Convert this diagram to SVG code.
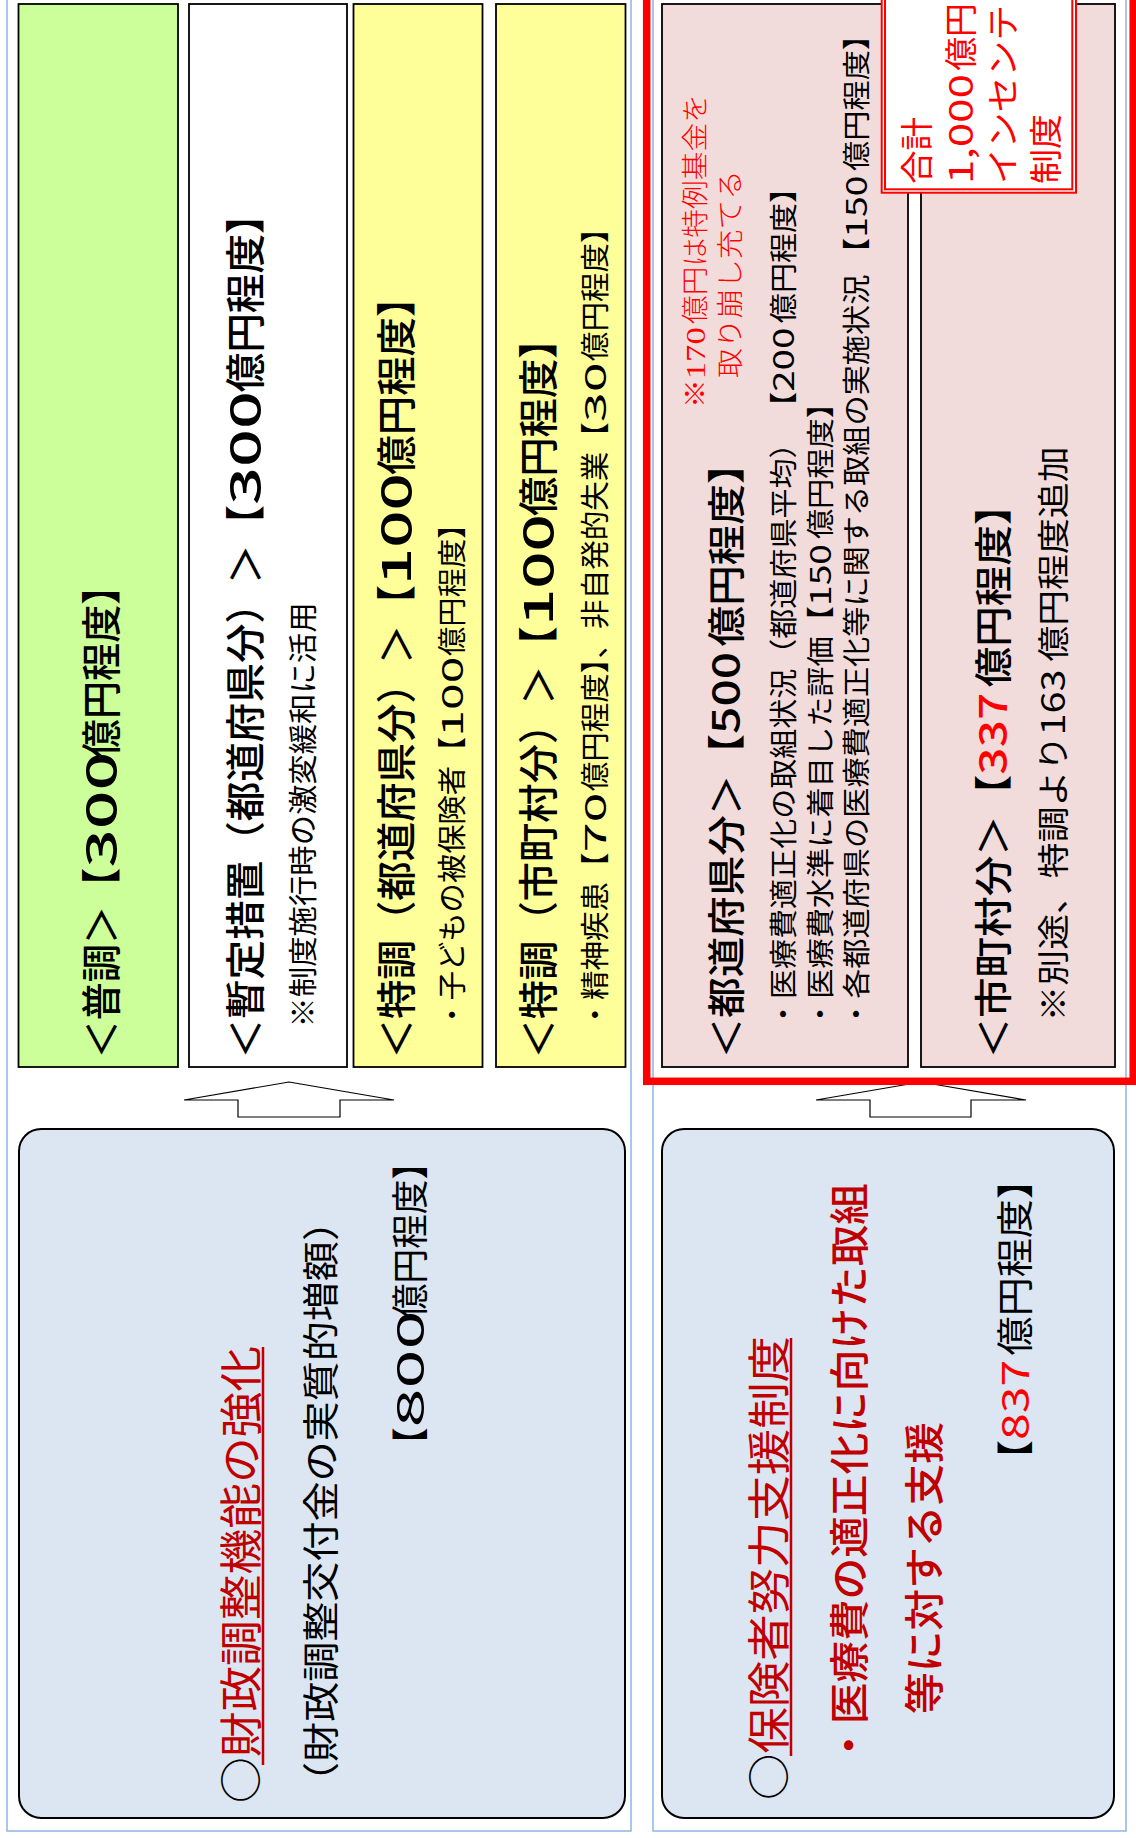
<svg xmlns="http://www.w3.org/2000/svg" width="1136" height="1838" viewBox="0 0 1136 1838">
<style>
text { font-family: "Noto Sans CJK JP", "Noto Sans", sans-serif; fill: #000; }
.b { font-weight: 500; }
.r { fill: #FF0000; }
.dr { fill: #C00000; }
.note { font-family: "Liberation Serif", "Noto Sans CJK JP", serif; fill: #FF0000; font-weight: 300; }
.frame { fill: none; stroke: #8EB4E3; stroke-width: 1.5; }
.box { stroke: #000; stroke-width: 1.8; }
.rbox { fill: #DCE6F2; stroke: #000; stroke-width: 2; }
.arrow { fill: #FFF; stroke: #000; stroke-width: 1.2; }
.ul { stroke: #C00000; stroke-width: 2.5; }
</style>
<rect width="1136" height="1838" fill="#FFFFFF"/>
<rect class="frame" x="7" y="-5" width="624" height="1836"/>
<rect class="frame" x="653" y="-5" width="473" height="1836"/>

<g id="futsucho">
<rect class="box" x="18.5" y="4" width="159.5" height="1063" fill="#CCFF99"/>
<text class="b" transform="translate(116.2,1058.5) rotate(-90)" font-size="40" textLength="492" lengthAdjust="spacingAndGlyphs">＜普調＞【<tspan textLength="116" lengthAdjust="spacingAndGlyphs">300</tspan>億円程度】</text>
</g>

<g id="zantei">
<rect class="box" x="189" y="4" width="158" height="1063" fill="#FFFFFF"/>
<text class="b" transform="translate(260.2,1058.5) rotate(-90)" font-size="40" textLength="864" lengthAdjust="spacingAndGlyphs">＜暫定措置（都道府県分）＞【<tspan textLength="114" lengthAdjust="spacingAndGlyphs">300</tspan>億円程度】</text>
<text transform="translate(314,1027.5) rotate(-90)" font-size="29" textLength="425" lengthAdjust="spacingAndGlyphs">※制度施行時の激変緩和に活用</text>
</g>

<g id="tokucho-pref">
<rect class="box" x="353.5" y="4" width="129" height="1063" fill="#FFFF99"/>
<text class="b" transform="translate(411.2,1058.5) rotate(-90)" font-size="40" textLength="781" lengthAdjust="spacingAndGlyphs">＜特調（都道府県分）＞【<tspan textLength="112" lengthAdjust="spacingAndGlyphs">100</tspan>億円程度】</text>
<text transform="translate(463,1029.5) rotate(-90)" font-size="29" textLength="520" lengthAdjust="spacingAndGlyphs">・子どもの被保険者【<tspan textLength="80" lengthAdjust="spacingAndGlyphs">100</tspan>億円程度】</text>
</g>

<g id="tokucho-muni">
<rect class="box" x="496" y="4" width="129.5" height="1063" fill="#FFFF99"/>
<text class="b" transform="translate(553.2,1058.5) rotate(-90)" font-size="40" textLength="739" lengthAdjust="spacingAndGlyphs">＜特調（市町村分）＞【<tspan textLength="112" lengthAdjust="spacingAndGlyphs">100</tspan>億円程度】</text>
<text transform="translate(606,1029.5) rotate(-90)" font-size="29" textLength="816" lengthAdjust="spacingAndGlyphs">・精神疾患【<tspan textLength="60" lengthAdjust="spacingAndGlyphs">70</tspan>億円程度】、非自発的失業【<tspan textLength="60" lengthAdjust="spacingAndGlyphs">30</tspan>億円程度】</text>
</g>

<g id="pref-share">
<rect class="box" x="662" y="4" width="246" height="1063" fill="#F2DCDB"/>
<text class="b" transform="translate(740,1058.5) rotate(-90)" font-size="38" textLength="615" lengthAdjust="spacingAndGlyphs">＜都道府県分＞【<tspan textLength="82" lengthAdjust="spacingAndGlyphs">500</tspan>億円程度】</text>
<text transform="translate(794,1029) rotate(-90)" font-size="28" textLength="856" lengthAdjust="spacingAndGlyphs">・医療費適正化の取組状況（都道府県平均） 【<tspan textLength="64" lengthAdjust="spacingAndGlyphs">200</tspan>億円程度】</text>
<text transform="translate(830.6,1029) rotate(-90)" font-size="28" textLength="641" lengthAdjust="spacingAndGlyphs">・医療費水準に着目した評価【<tspan textLength="62" lengthAdjust="spacingAndGlyphs">150</tspan>億円程度】</text>
<text transform="translate(867,1029) rotate(-90)" font-size="28" textLength="1009" lengthAdjust="spacingAndGlyphs">・各都道府県の医療費適正化等に関する取組の実施状況 【<tspan textLength="62" lengthAdjust="spacingAndGlyphs">150</tspan>億円程度】</text>
<text class="note" transform="translate(705.4,408) rotate(-90)" font-size="27" textLength="314" lengthAdjust="spacingAndGlyphs">※<tspan textLength="52" lengthAdjust="spacingAndGlyphs">170</tspan>億円は特例基金を</text>
<text class="note" transform="translate(740.4,378) rotate(-90)" font-size="27" textLength="208" lengthAdjust="spacingAndGlyphs">取り崩し充てる</text>
</g>

<g id="muni-share">
<rect class="box" x="921" y="4" width="194" height="1063" fill="#F2DCDB"/>
<text class="b" transform="translate(1007,1058.5) rotate(-90)" font-size="38" textLength="574" lengthAdjust="spacingAndGlyphs">＜市町村分＞【<tspan class="r" textLength="82" lengthAdjust="spacingAndGlyphs">337</tspan>億円程度】</text>
<text transform="translate(1065,1021.5) rotate(-90)" font-size="32" textLength="575" lengthAdjust="spacingAndGlyphs">※別途、特調より<tspan textLength="66" lengthAdjust="spacingAndGlyphs">163</tspan>億円程度追加</text>
</g>

<g id="fiscal-adjustment">
<rect class="rbox" x="19" y="1129" width="606" height="689" rx="22"/>
<text transform="translate(257.3,1803) rotate(-90)" font-size="43" textLength="457" lengthAdjust="spacingAndGlyphs">○<tspan class="dr">財政調整機能の強化</tspan></text>
<line class="ul" x1="263" y1="1765" x2="263" y2="1347"/>
<text transform="translate(334.5,1802) rotate(-90)" font-size="37" textLength="601" lengthAdjust="spacingAndGlyphs">（財政調整交付金の実質的増額）</text>
<text transform="translate(424,1462) rotate(-90)" font-size="37" textLength="317" lengthAdjust="spacingAndGlyphs">【<tspan textLength="117" lengthAdjust="spacingAndGlyphs">800</tspan>億円程度】</text>
</g>

<g id="insurer-support">
<rect class="rbox" x="662" y="1129" width="452" height="689" rx="22"/>
<text transform="translate(785.3,1800) rotate(-90)" font-size="43" textLength="464" lengthAdjust="spacingAndGlyphs">○<tspan class="dr">保険者努力支援制度</tspan></text>
<line class="ul" x1="791" y1="1756" x2="791" y2="1338"/>
<text class="dr b" transform="translate(863.7,1766) rotate(-90)" font-size="40" textLength="583" lengthAdjust="spacingAndGlyphs">・医療費の適正化に向けた取組</text>
<text class="dr b" transform="translate(939,1714) rotate(-90)" font-size="40" textLength="292" lengthAdjust="spacingAndGlyphs">等に対する支援</text>
<text transform="translate(1029,1479) rotate(-90)" font-size="37" textLength="319" lengthAdjust="spacingAndGlyphs">【<tspan class="r" textLength="80" lengthAdjust="spacingAndGlyphs">837</tspan>億円程度】</text>
</g>

<g id="connectors">
<polygon class="arrow" points="289,1082 394,1100 340,1100 340,1117 238,1117 238,1100 184,1100"/>
<polygon class="arrow" points="921,1082 1026,1100 971,1100 971,1117 870,1117 870,1100 816,1100"/>
</g>

<rect id="incentive-frame" x="646.7" y="-20" width="486.5" height="1101.3" fill="none" stroke="#FF0000" stroke-width="7.5"/>

<g id="incentive-label">
<rect x="881.7" y="-10" width="194.3" height="202.7" fill="#FFFFFF" stroke="#FF0000" stroke-width="2"/>
<rect x="885" y="-10" width="187.3" height="199.3" fill="none" stroke="#FF0000" stroke-width="2"/>
<text class="r" transform="translate(928.5,184) rotate(-90)" font-size="33" textLength="67" lengthAdjust="spacingAndGlyphs">合計</text>
<text class="r" transform="translate(972.5,184) rotate(-90)" font-size="33" textLength="181" lengthAdjust="spacingAndGlyphs"><tspan textLength="110" lengthAdjust="spacingAndGlyphs">1,000</tspan>億円</text>
<text class="r" transform="translate(1015,184) rotate(-90)" font-size="33" textLength="179" lengthAdjust="spacingAndGlyphs">インセンテ</text>
<text class="r" transform="translate(1057.5,184) rotate(-90)" font-size="33" textLength="70" lengthAdjust="spacingAndGlyphs">制度</text>
</g>
</svg>
